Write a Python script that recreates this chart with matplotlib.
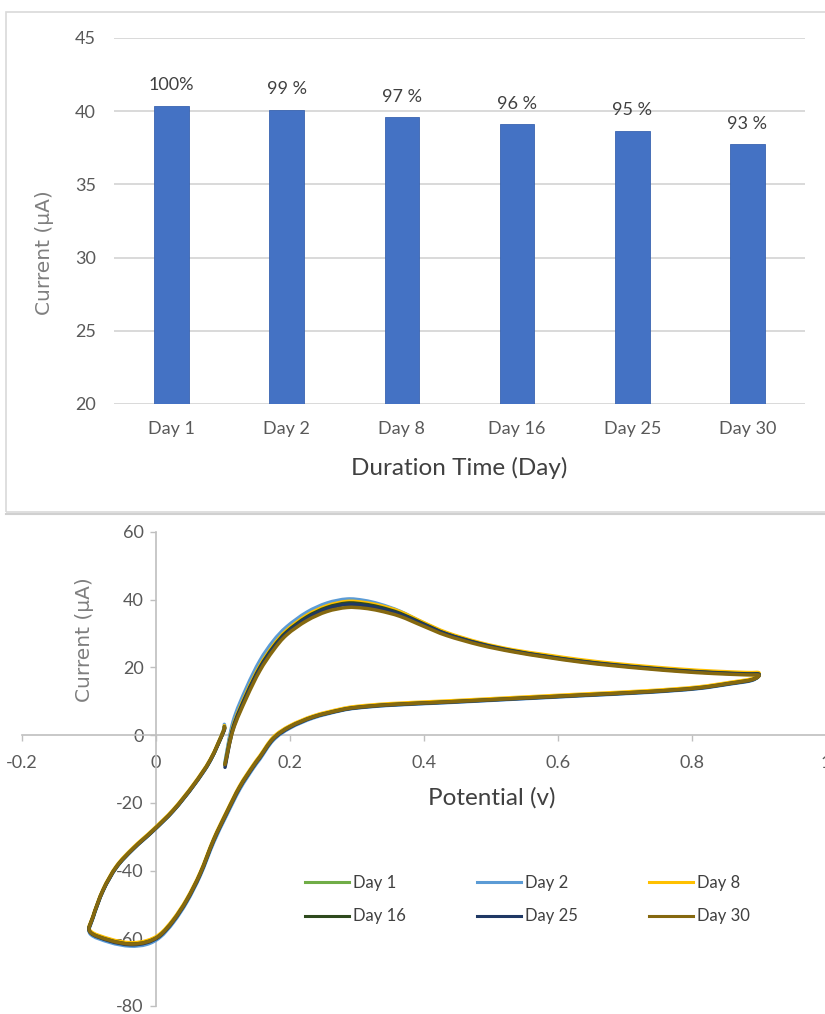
import matplotlib
matplotlib.use("Agg")
import matplotlib.pyplot as plt
from matplotlib.lines import Line2D
from matplotlib.patches import Rectangle, PathPatch
from matplotlib.path import Path

plt.rcParams['axes.unicode_minus'] = False
plt.rcParams['font.family'] = ['Lato', 'DejaVu Sans']

# ---------------- data: bar chart ----------------
days = ["Day 1", "Day 2", "Day 8", "Day 16", "Day 25", "Day 30"]
bar_current = [40.37, 40.10, 39.57, 39.12, 38.66, 37.75]
retention_labels = ["100%", "99 %", "97 %", "96 %", "95 %", "93 %"]
bar_yticks = [20, 25, 30, 35, 40, 45]

# ---------------- data: cyclic voltammograms ----------------
# forward sweep potentials (V)
potential_fwd = [0.103, 0.115, 0.135, 0.155, 0.175, 0.195, 0.225, 0.255, 0.285, 0.310,
                 0.334, 0.364, 0.399, 0.434, 0.484, 0.533, 0.583, 0.633, 0.683, 0.732,
                 0.782, 0.832, 0.882, 0.900]
# reverse sweep + return branch potentials (V)
potential_rev = [0.890, 0.857, 0.807, 0.732, 0.633, 0.533, 0.434, 0.349, 0.300, 0.275,
                 0.235, 0.200, 0.175, 0.155, 0.145, 0.125, 0.105, 0.086, 0.066, 0.046,
                 0.026, 0.006, -0.014, -0.039, -0.069, -0.0985, -0.094, -0.079, -0.059,
                 -0.034, -0.004, 0.026, 0.056, 0.081, 0.1005, 0.102]

fwd_day1 = [-8.3, 3.3, 13.3, 21.3, 27.2, 31.5, 35.9, 38.6, 39.9, 39.5, 38.4, 36.4, 33.0,
            30.0, 26.9, 24.9, 23.3, 21.9, 20.8, 19.9, 19.1, 18.5, 18.1, 18.0]
fwd_day2 = [-8.0, 4.0, 14.0, 22.0, 27.8, 32.0, 36.3, 39.0, 40.2, 39.8, 38.7, 36.6, 33.2,
            30.1, 27.0, 24.9, 23.3, 21.9, 20.8, 19.9, 19.1, 18.5, 18.1, 18.0]
fwd_day8 = [-8.6, 2.6, 12.5, 20.5, 26.5, 31.0, 35.4, 38.2, 39.5, 39.2, 38.3, 36.5, 33.3,
            30.3, 27.3, 25.2, 23.7, 22.3, 21.2, 20.3, 19.5, 18.9, 18.5, 18.4]
fwd_day16 = [-8.8, 2.2, 12.0, 20.0, 26.0, 30.5, 34.9, 37.7, 39.0, 38.7, 37.8, 36.0, 32.9,
             29.9, 27.0, 24.9, 23.3, 21.9, 20.8, 19.9, 19.1, 18.5, 18.1, 18.0]
fwd_day25 = [-9.5, 1.8, 11.6, 19.6, 25.6, 30.1, 34.5, 37.3, 38.6, 38.3, 37.4, 35.7, 32.7,
             29.8, 26.9, 24.8, 23.2, 21.8, 20.7, 19.8, 19.0, 18.4, 18.0, 17.9]
fwd_day30 = [-8.7, 1.5, 11.0, 19.0, 25.0, 29.6, 33.8, 36.5, 37.7, 37.5, 36.7, 35.1, 32.2,
             29.4, 26.6, 24.6, 23.0, 21.6, 20.5, 19.6, 18.8, 18.2, 17.8, 17.7]

rev_day1 = [16.4, 15.3, 13.9, 12.8, 11.8, 10.8, 9.8, 9.0, 8.2, 7.4, 5.4, 2.5, -1.0, -6.5,
            -9.2, -15.3, -23.1, -31.0, -40.9, -48.7, -54.7, -59.1, -61.1, -61.7, -60.6,
            -58.1, -53.7, -45.8, -38.9, -33.5, -28.1, -22.2, -14.8, -7.4, 1.0, 2.5]
rev_day2 = [16.2, 15.1, 13.7, 12.6, 11.6, 10.6, 9.6, 8.8, 8.0, 7.2, 5.1, 2.1, -1.5, -7.1,
            -9.8, -16.0, -23.8, -31.7, -41.5, -49.3, -55.3, -59.7, -61.8, -62.3, -61.2,
            -58.6, -54.0, -46.0, -39.1, -33.7, -28.3, -22.4, -15.0, -7.6, 1.4, 3.2]
rev_day8 = [16.7, 15.6, 14.2, 13.1, 12.1, 11.1, 10.1, 9.3, 8.5, 7.7, 5.7, 2.8, -0.6, -6.1,
            -8.8, -14.9, -22.7, -30.6, -40.5, -48.3, -54.3, -58.7, -60.7, -61.3, -60.2,
            -57.7, -53.4, -45.5, -38.6, -33.2, -27.8, -21.9, -14.5, -7.1, 1.3, 2.8]
rev_day16 = [16.4, 15.3, 13.9, 12.8, 11.8, 10.8, 9.8, 9.0, 8.2, 7.4, 5.4, 2.5, -1.0, -6.5,
             -9.2, -15.3, -23.1, -31.0, -40.9, -48.7, -54.7, -59.1, -61.1, -61.7, -60.6,
             -58.1, -53.7, -45.8, -38.9, -33.5, -28.1, -22.2, -14.8, -7.4, 1.0, 2.5]
rev_day25 = [16.3, 15.2, 13.8, 12.7, 11.7, 10.7, 9.7, 8.9, 8.1, 7.3, 5.3, 2.3, -1.2, -6.7,
             -9.4, -15.5, -23.3, -31.2, -41.1, -48.9, -54.9, -59.3, -61.3, -61.9, -60.8,
             -58.2, -53.8, -45.9, -39.0, -33.6, -28.2, -22.3, -14.9, -7.5, 0.8, 2.2]
rev_day30 = [16.4, 15.3, 13.9, 12.8, 11.8, 10.8, 9.8, 9.0, 8.2, 7.4, 5.4, 2.5, -1.0, -6.5,
             -9.2, -15.3, -23.1, -31.0, -40.9, -48.7, -54.7, -59.1, -61.1, -61.7, -60.6,
             -58.1, -53.7, -45.8, -38.9, -33.5, -28.1, -22.2, -14.8, -7.4, 1.0, 2.5]

cv_fwd = [fwd_day1, fwd_day2, fwd_day8, fwd_day16, fwd_day25, fwd_day30]
cv_rev = [rev_day1, rev_day2, rev_day8, rev_day16, rev_day25, rev_day30]
cv_colors = ['#70AD47', '#5B9BD5', '#FFC000', '#2E4A1E', '#1F3864', '#85680F']

cv_xticks = [-0.2, 0, 0.2, 0.4, 0.6, 0.8, 1.0]
cv_xticklabels = ['-0.2', '0', '0.2', '0.4', '0.6', '0.8', '1']
cv_yticks = [-80, -60, -40, -20, 0, 20, 40, 60]


def smooth_path(xs, ys):
    """Smoothed-line rendering (as Excel's 'smoothed line' scatter) through the points."""
    pts = list(zip(xs, ys))
    verts = [pts[0]]
    codes = [Path.MOVETO]
    n = len(pts)
    for i in range(n - 1):
        p0 = pts[i - 1] if i > 0 else pts[i]
        p1 = pts[i]
        p2 = pts[i + 1]
        p3 = pts[i + 2] if i + 2 < n else pts[i + 1]
        c1 = (p1[0] + (p2[0] - p0[0]) / 6.0, p1[1] + (p2[1] - p0[1]) / 6.0)
        c2 = (p2[0] - (p3[0] - p1[0]) / 6.0, p2[1] - (p3[1] - p1[1]) / 6.0)
        verts += [c1, c2, p2]
        codes += [Path.CURVE4, Path.CURVE4, Path.CURVE4]
    return Path(verts, codes)


# ---------------- figure ----------------
W, H = 825, 1014
fig = plt.figure(figsize=(W / 100, H / 100), dpi=100)
fig.patch.set_facecolor('white')


def fx(px):
    return px / W


def fy(py):
    return 1 - py / H


# panel frames
fig.add_artist(Rectangle((fx(6), fy(512)), fx(830) - fx(6), fy(12) - fy(512),
                         transform=fig.transFigure, fill=False, edgecolor='#D9D9D9', lw=1.2))
fig.add_artist(Line2D([fx(6), fx(825)], [fy(514), fy(514)], transform=fig.transFigure,
                      color='#D0D0D0', lw=1.5))

# ---------------- top: bar chart ----------------
ax1 = fig.add_axes([fx(114), fy(404), fx(805) - fx(114), fy(38) - fy(404)])
xpos = list(range(len(days)))
ax1.bar(xpos, bar_current, width=0.30, color='#4472C4', edgecolor='#3A64B0',
        linewidth=0.6, zorder=3)
ax1.set_xlim(-0.5, len(days) - 0.5)
ax1.set_ylim(20, 45)
ax1.set_yticks(bar_yticks)
ax1.set_xticks(xpos)
ax1.set_xticklabels(days)
ax1.grid(axis='y', color='#D9D9D9', lw=1.4, zorder=0)
ax1.grid(axis='x', visible=False)
for s in ax1.spines.values():
    s.set_visible(False)
ax1.tick_params(axis='y', length=0, pad=13, labelsize=13, labelcolor='#595959')
ax1.tick_params(axis='x', length=0, pad=12, labelsize=13, labelcolor='#595959')
for x, v, lab in zip(xpos, bar_current, retention_labels):
    ax1.annotate(lab, (x, v), xytext=(0, 9), textcoords='offset points',
                 ha='center', va='bottom', fontsize=13, color='#404040')

fig.text(fx(44), fy(253), 'Current (μA)', rotation=90, ha='center', va='center',
         fontsize=14.5, color='#7F7F7F', family=['DejaVu Sans'])
fig.text(fx(459), fy(468), 'Duration Time (Day)', ha='center', va='center',
         fontsize=17.5, color='#404040')

# ---------------- bottom: CV curves ----------------
ax2 = fig.add_axes([fx(22), fy(1006), fx(826) - fx(22), fy(532) - fy(1006)])
proxies = []
for fwd, rev, col, lab in zip(cv_fwd, cv_rev, cv_colors, days):
    path = smooth_path(potential_fwd + potential_rev, fwd + rev)
    ax2.add_patch(PathPatch(path, fill=False, edgecolor=col, lw=2.5,
                            capstyle='round', joinstyle='round', zorder=3))
    proxies.append(Line2D([], [], color=col, lw=2.2, label=lab))
ax2.set_xlim(-0.2, 1.0)
ax2.set_ylim(-80, 60)
ax2.spines['left'].set_position(('data', 0))
ax2.spines['bottom'].set_position(('data', 0))
ax2.spines['top'].set_visible(False)
ax2.spines['right'].set_visible(False)
for s in ('left', 'bottom'):
    ax2.spines[s].set_color('#BFBFBF')
    ax2.spines[s].set_linewidth(1.2)
ax2.set_xticks(cv_xticks)
ax2.set_xticklabels(cv_xticklabels)
ax2.set_yticks(cv_yticks)
ax2.tick_params(axis='x', direction='out', length=4, width=1.0, color='#BFBFBF', pad=10,
                labelsize=13, labelcolor='#595959')
ax2.tick_params(axis='y', direction='out', length=4, width=1.0, color='#BFBFBF', pad=5,
                labelsize=13, labelcolor='#595959')

fig.text(fx(85), fy(640), 'Current (μA)', rotation=90, ha='center', va='center',
         fontsize=14.5, color='#7F7F7F', family=['DejaVu Sans'])
fig.text(fx(492), fy(798), 'Potential (v)', ha='center', va='center',
         fontsize=17.5, color='#404040')

order = [0, 3, 1, 4, 2, 5]
leg = ax2.legend([proxies[i] for i in order], [days[i] for i in order], ncol=3,
                 loc='upper left', bbox_to_anchor=(fx(300), fy(870)),
                 bbox_transform=fig.transFigure, frameon=False, fontsize=12,
                 handlelength=2.65, handletextpad=0.25, columnspacing=4.25,
                 labelspacing=1.05, borderaxespad=0, borderpad=0.3)
for t in leg.get_texts():
    t.set_color('#404040')

fig.savefig('out.png', dpi=100, facecolor='white')
